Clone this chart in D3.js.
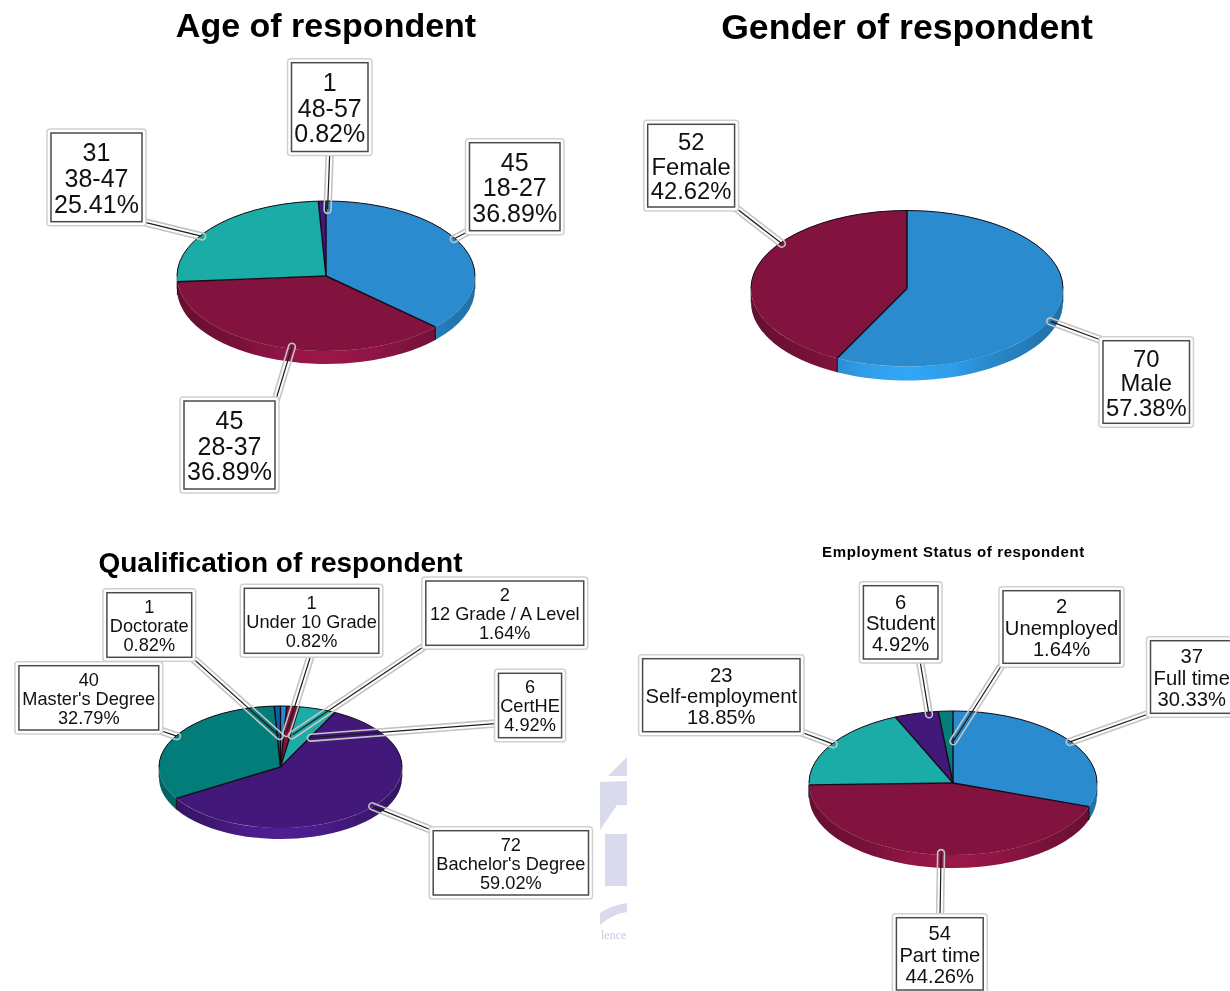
<!DOCTYPE html>
<html><head><meta charset="utf-8">
<style>html,body{margin:0;padding:0;background:#fff;overflow:hidden}svg{display:block;filter:blur(0.45px)}text{font-family:"Liberation Sans",Arial,sans-serif}</style>
<script src="https://cdnjs.cloudflare.com/ajax/libs/d3/7.8.5/d3.min.js"></script>
</head><body><svg id="c" width="1230" height="991" xmlns="http://www.w3.org/2000/svg"></svg>
<script>
// ---- data ----
const ageCategories = ["18-27","28-37","38-47","48-57"];
const ageCounts = [45,45,31,1];
const genderCategories = ["Male","Female"];
const genderCounts = [70,52];
const qualCategories = ["Under 10 Grade","12 Grade / A Level","CertHE","Bachelor's Degree","Master's Degree","Doctorate"];
const qualCounts = [1,2,6,72,40,1];
const employCategories = ["Full time","Part time","Self-employment","Student","Unemployed"];
const employCounts = [37,54,23,6,2];
const titles = ["Age of respondent","Gender of respondent","Qualification of respondent","Employment Status of respondent"];

// ---- colours ----
const BLUE="#2A8BCE",MAROON="#81133E",TEAL="#1BACA7",PURPLE="#42197A",DTEAL="#037D7A",DBLUE="#0B5FA5";
const agePalette=[BLUE,MAROON,TEAL,PURPLE];
const genderPalette=[BLUE,MAROON];
const qualPalette=[BLUE,MAROON,TEAL,PURPLE,DTEAL,DBLUE];
const employPalette=[BLUE,MAROON,TEAL,PURPLE,DTEAL];

// ---- callout layout (box corners, leader start, tip nudge from slice mid-point) ----
const ageCallouts=[
 {box:[469.5,142.7,560,230.7],start:[469.5,230.7],nudge:[5,-10]},
 {box:[184,401,275,489],start:[275.5,401],nudge:[10,7]},
 {box:[51,133,142,221.7],start:[142,221.7],nudge:[-23,5]},
 {box:[291.5,62.7,368,151.5],start:[329.8,151.5],nudge:[5,1.5]}];
const genderCallouts=[
 {box:[1103,340.7,1189.5,423.3],start:[1103,340.7],nudge:[6.5,16.7]},
 {box:[647.7,124.3,734.6,207],start:[734.6,207],nudge:[11.5,-28.7]}];
const qualCallouts=[
 {box:[244.3,588.3,378.8,653.3],start:[311.4,653.5],nudge:[3,21]},
 {box:[425.8,581,583.7,645.3],start:[425.8,645.3],nudge:[0,23]},
 {box:[498.5,673.3,561.6,737.7],start:[498.5,723.3],nudge:[-3,23]},
 {box:[433.2,830.7,588.5,895],start:[433.2,830.7],nudge:[11.5,2]},
 {box:[18.9,665.7,158.7,730],start:[158.7,730],nudge:[-7,-5]},
 {box:[106.9,592.7,191.7,657.3],start:[191.7,657.3],nudge:[2,24]}];
const employCallouts=[
 {box:[1150.5,640.7,1233,713.3],start:[1150.5,713.3],nudge:[11,-3.5]},
 {box:[896.4,917.7,983.2,990],start:[940,917.7],nudge:[8,6]},
 {box:[642.6,658.7,800,731.7],start:[800,731.7],nudge:[-10,-4]},
 {box:[863.4,585.7,938,659],start:[919.7,659],nudge:[9,-6]},
 {box:[1003,590.7,1120,663.3],start:[1003,663.3],nudge:[7,23]}];

const charts=[
 {title:titles[0],tx:326,ty:37,tsize:34,spacing:0,cats:ageCategories,vals:ageCounts,pal:agePalette,call:ageCallouts,cx:326,cy:276,rx:149,ry:75,depth:13,fs:25,lh:25.7},
 {title:titles[1],tx:907,ty:39,tsize:35.6,spacing:0,cats:genderCategories,vals:genderCounts,pal:genderPalette,call:genderCallouts,cx:907,cy:288.5,rx:156,ry:78,depth:14,fs:23.8,lh:24.5},
 {title:titles[2],tx:280.5,ty:572,tsize:28,spacing:0,cats:qualCategories,vals:qualCounts,pal:qualPalette,call:qualCallouts,cx:280.5,cy:767,rx:121.5,ry:61,depth:11,fs:18.2,lh:19},
 {title:titles[3],tx:953.5,ty:557,tsize:15,spacing:.6,cats:employCategories,vals:employCounts,pal:employPalette,call:employCallouts,cx:953,cy:783,rx:144,ry:72,depth:13,fs:20.2,lh:21.3}
];

const svg=d3.select("#c");
const defs=svg.append("defs");
svg.append("rect").attr("width",1230).attr("height",991).attr("fill","#fff");

// faint watermark fragment between the panels
const wm=svg.append("g").attr("fill","#D9DAEB");
[[[627,757],[608,776],[627,776]],
 [[600,782],[627,781],[627,805],[617,805],[600,830]],
 [[605,834],[627,834],[627,886],[605,886]]
].forEach(p=>wm.append("polygon").attr("points",p.join(" ")));
wm.append("path").attr("d","M600,913Q612,905 627,903V912Q612,914 600,925Z");
svg.append("text").attr("x",601).attr("y",939).attr("font-size",12).attr("fill","#C9CBDD")
   .style("font-family","'Liberation Serif',serif").text("lence");

const fmtPct=d3.format(".2%");
const scaleCol=(c,k)=>{const r=d3.rgb(c);return d3.rgb(Math.min(255,r.r*k),Math.min(255,r.g*k),Math.min(255,r.b*k)).formatHex();};
const sideStops=[[0,.78],[.2,.92],[.35,1.12],[.5,1.2],[.65,1.12],[.8,.95],[1,.8]];

charts.forEach((ch,ci)=>{
  const g=svg.append("g");
  const pie=d3.pie().sort(null).startAngle(0).endAngle(2*Math.PI)(ch.vals);
  const total=d3.sum(ch.vals);
  const px=a=>ch.cx+ch.rx*Math.sin(a), py=a=>ch.cy-ch.ry*Math.cos(a);
  const arc=d3.arc().innerRadius(0).outerRadius(ch.rx);

  // side wall (front half only)
  const H=Math.PI/2, L=3*Math.PI/2;
  pie.forEach((s,i)=>{
    const a0=Math.max(s.startAngle,H), a1=Math.min(s.endAngle,L);
    if(a1<=a0) return;
    const id=`side${ci}_${i}`;
    const gr=defs.append("linearGradient").attr("id",id).attr("gradientUnits","userSpaceOnUse")
      .attr("x1",ch.cx-ch.rx).attr("x2",ch.cx+ch.rx).attr("y1",0).attr("y2",0);
    sideStops.forEach(st=>gr.append("stop").attr("offset",st[0]).attr("stop-color",scaleCol(ch.pal[i],st[1])));
    const d=`M${px(a0)},${py(a0)}A${ch.rx},${ch.ry} 0 0 1 ${px(a1)},${py(a1)}L${px(a1)},${py(a1)+ch.depth}A${ch.rx},${ch.ry} 0 0 0 ${px(a0)},${py(a0)+ch.depth}Z`;
    g.append("path").attr("d",d).attr("fill",`url(#${id})`);
  });
  // top faces
  pie.forEach((s,i)=>{
    g.append("path").attr("d",arc(s))
     .attr("transform",`translate(${ch.cx},${ch.cy}) scale(1,${ch.ry/ch.rx})`)
     .attr("fill",ch.pal[i]).attr("stroke",ch.pal[i]).attr("stroke-width",.3);
  });
  // radial edges, back rim and wall seams
  const ink="#160a14";
  pie.forEach(s=>{
    const a=s.startAngle;
    g.append("line").attr("x1",ch.cx).attr("y1",ch.cy).attr("x2",px(a)).attr("y2",py(a)).attr("stroke",ink).attr("stroke-width",1.4);
    if(a>H&&a<L) g.append("line").attr("x1",px(a)).attr("y1",py(a)).attr("x2",px(a)).attr("y2",py(a)+ch.depth).attr("stroke",ink).attr("stroke-width",1);
  });
  g.append("path").attr("d",`M${ch.cx-ch.rx},${ch.cy}A${ch.rx},${ch.ry} 0 0 1 ${ch.cx+ch.rx},${ch.cy}`).attr("fill","none").attr("stroke",ink).attr("stroke-width",1);
  g.append("path").attr("d",`M${ch.cx-ch.rx},${ch.cy}v${ch.depth}M${ch.cx+ch.rx},${ch.cy}v${ch.depth}`).attr("stroke","#333").attr("stroke-width",.6).attr("fill","none");

  // leaders
  const tips=pie.map((s,i)=>{
    const m=(s.startAngle+s.endAngle)/2, n=ch.call[i].nudge;
    return [ch.cx+.9*ch.rx*Math.sin(m)+n[0], ch.cy-.9*ch.ry*Math.cos(m)+n[1]];
  });
  pie.forEach((s,i)=>{
    const [sx,sy]=ch.call[i].start,[tx,ty]=tips[i];
    const dx=tx-sx,dy=ty-sy,len=Math.hypot(dx,dy),nx=-dy/len*3.4,ny=dx/len*3.4;
    g.append("path").attr("d",`M${sx+nx},${sy+ny}L${tx+nx},${ty+ny}A3.4,3.4 0 0 0 ${tx-nx},${ty-ny}L${sx-nx},${sy-ny}`)
      .attr("fill","none").attr("stroke","#C4C4C4").attr("stroke-width",1.6);
    g.append("line").attr("x1",sx).attr("y1",sy).attr("x2",sx+dx*(len-1)/len).attr("y2",sy+dy*(len-1)/len)
      .attr("stroke","#1c1c1c").attr("stroke-width",1.2);
  });
  // boxes and text
  pie.forEach((s,i)=>{
    const [x0,y0,x1,y1]=ch.call[i].box;
    g.append("rect").attr("x",x0-4).attr("y",y0-4).attr("width",x1-x0+8).attr("height",y1-y0+8).attr("rx",3)
      .attr("fill","#fff").attr("stroke","#D0D0D0").attr("stroke-width",1.5);
    g.append("rect").attr("x",x0).attr("y",y0).attr("width",x1-x0).attr("height",y1-y0)
      .attr("fill","#fff").attr("stroke","#4a4a4a").attr("stroke-width",1.5);
    const mx=(x0+x1)/2, my=(y0+y1)/2;
    [String(s.value),ch.cats[i],fmtPct(s.value/total)].forEach((t,k)=>{
      g.append("text").attr("x",mx).attr("y",my+(k-1)*ch.lh+.38*ch.fs)
        .attr("text-anchor","middle").attr("font-size",ch.fs).attr("fill","#111").text(t);
    });
  });
  // title
  svg.append("text").attr("x",ch.tx).attr("y",ch.ty).attr("text-anchor","middle")
    .attr("font-size",ch.tsize).attr("font-weight","bold").attr("letter-spacing",ch.spacing).attr("fill","#000").text(ch.title);
});
</script></body></html>
